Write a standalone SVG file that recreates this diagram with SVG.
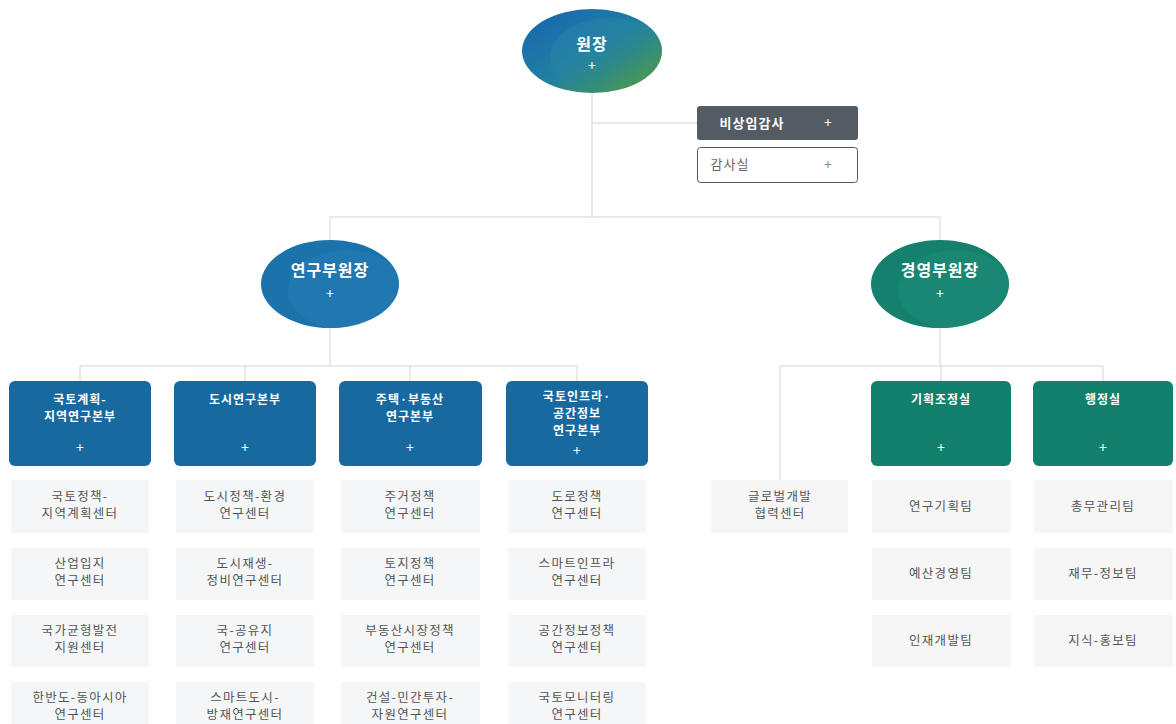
<svg xmlns="http://www.w3.org/2000/svg" width="1176" height="724" viewBox="0 0 1176 724">
<defs>
<linearGradient id="gTop" x1="0.15" y1="0.15" x2="0.9" y2="0.9">
<stop offset="0" stop-color="#1a6cae"/>
<stop offset="0.5" stop-color="#2080a0"/>
<stop offset="1" stop-color="#4f9a3c"/>
</linearGradient>
<linearGradient id="gTopIn" x1="0" y1="0" x2="1" y2="1">
<stop offset="0" stop-color="#2a86b8"/>
<stop offset="0.55" stop-color="#2a8a96"/>
<stop offset="1" stop-color="#55a040"/>
</linearGradient>
<clipPath id="cTop"><ellipse cx="592" cy="51" rx="70" ry="42"/></clipPath>
<clipPath id="cL"><ellipse cx="330" cy="284" rx="69" ry="44"/></clipPath>
<clipPath id="cR"><ellipse cx="940" cy="284" rx="69" ry="44"/></clipPath>
<style>
text{font-family:"Noto Sans CJK KR","Noto Sans",sans-serif;text-anchor:middle;}
.conn{stroke:#d4d4d4;stroke-width:1;fill:none;}
.hd{fill:#fff;font-size:12px;font-weight:bold;letter-spacing:1px;}
.pl{fill:#fff;font-size:14px;}
.sub{fill:#f4f6f8;}
.st{fill:#555;font-size:12.5px;letter-spacing:1.3px;}
.blue{fill:#17699f;}
.green{fill:#13806e;}
.ct{fill:#fff;font-size:16px;font-weight:bold;letter-spacing:1px;}
</style>
</defs>
<rect width="1176" height="724" fill="#fff"/>

<g id="connectors">
<path class="conn" d="M592 92V217M592 123H697M330 217H940V240M330 217V240"/>
<path class="conn" d="M330 328V366M80 366H577M80 366V381M245 366V381M410 366V381M577 366V381"/>
<path class="conn" d="M940 328V366M780 366H1103M780 366V480M941 366V381M1103 366V381"/>
</g>

<g id="n-wonjang">
<ellipse cx="592" cy="51" rx="70" ry="42" fill="url(#gTop)"/>
<ellipse cx="610" cy="58" rx="60" ry="40" fill="url(#gTopIn)" opacity="0.4" clip-path="url(#cTop)"/>
<text x="592" y="50" class="ct" font-size="18">원장</text>
<text x="592" y="71" class="pl">+</text>
</g>

<g id="n-audit1">
<rect x="697" y="106" width="161" height="34" rx="3" fill="#545b62"/>
<text x="752" y="128" class="hd" style="font-size:13px">비상임감사</text>
<text x="828" y="128" class="pl">+</text>
</g>
<g id="n-audit2">
<rect x="697.5" y="147.5" width="160" height="35" rx="3" fill="#fff" stroke="#555" stroke-width="1"/>
<text x="730" y="169" fill="#666" style="font-size:13px;letter-spacing:1px">감사실</text>
<text x="828" y="170" fill="#888" style="font-size:14px">+</text>
</g>

<g id="n-vp-research">
<ellipse cx="330" cy="284" rx="69" ry="44" fill="#1c72ab"/>
<ellipse cx="346" cy="290" rx="58" ry="40" fill="#2a84ba" opacity="0.35" clip-path="url(#cL)"/>
<text x="330" y="276" class="ct">연구부원장</text>
<text x="330" y="299" class="pl">+</text>
</g>
<g id="n-vp-mgmt">
<ellipse cx="940" cy="284" rx="69" ry="44" fill="#14806d"/>
<ellipse cx="956" cy="290" rx="58" ry="40" fill="#249282" opacity="0.35" clip-path="url(#cR)"/>
<text x="940" y="276" class="ct">경영부원장</text>
<text x="940" y="299" class="pl">+</text>
</g>

<g id="d1"><rect x="9" y="381" width="142" height="85" rx="6" class="blue"/>
<text x="80" y="404" class="hd">국토계획-</text><text x="80" y="421" class="hd">지역연구본부</text><text x="80" y="453" class="pl">+</text></g>
<g id="d2"><rect x="174" y="381" width="142" height="85" rx="6" class="blue"/>
<text x="245" y="404" class="hd">도시연구본부</text><text x="245" y="453" class="pl">+</text></g>
<g id="d3"><rect x="339" y="381" width="143" height="85" rx="6" class="blue"/>
<text x="410" y="404" class="hd">주택·부동산</text><text x="410" y="421" class="hd">연구본부</text><text x="410" y="453" class="pl">+</text></g>
<g id="d4"><rect x="506" y="381" width="142" height="85" rx="6" class="blue"/>
<text x="577" y="401" class="hd">국토인프라·</text><text x="577" y="418" class="hd">공간정보</text><text x="577" y="435" class="hd">연구본부</text><text x="577" y="456" class="pl">+</text></g>
<g id="d5"><rect x="871" y="381" width="140" height="85" rx="6" class="green"/>
<text x="941" y="404" class="hd">기획조정실</text><text x="941" y="453" class="pl">+</text></g>
<g id="d6"><rect x="1033" y="381" width="140" height="85" rx="6" class="green"/>
<text x="1103" y="404" class="hd">행정실</text><text x="1103" y="453" class="pl">+</text></g>

<g id="s1-1"><rect x="11" y="480" width="138" height="53" class="sub"/><text x="80" y="501" class="st">국토정책-</text><text x="80" y="518" class="st">지역계획센터</text></g>
<g id="s1-2"><rect x="11" y="548" width="138" height="52" class="sub"/><text x="80" y="568" class="st">산업입지</text><text x="80" y="585" class="st">연구센터</text></g>
<g id="s1-3"><rect x="11" y="615" width="138" height="52" class="sub"/><text x="80" y="635" class="st">국가균형발전</text><text x="80" y="652" class="st">지원센터</text></g>
<g id="s1-4"><rect x="11" y="682" width="138" height="52" class="sub"/><text x="80" y="702" class="st">한반도-동아시아</text><text x="80" y="719" class="st">연구센터</text></g>

<g id="s2-1"><rect x="176" y="480" width="138" height="53" class="sub"/><text x="245" y="501" class="st">도시정책-환경</text><text x="245" y="518" class="st">연구센터</text></g>
<g id="s2-2"><rect x="176" y="548" width="138" height="52" class="sub"/><text x="245" y="568" class="st">도시재생-</text><text x="245" y="585" class="st">정비연구센터</text></g>
<g id="s2-3"><rect x="176" y="615" width="138" height="52" class="sub"/><text x="245" y="635" class="st">국-공유지</text><text x="245" y="652" class="st">연구센터</text></g>
<g id="s2-4"><rect x="176" y="682" width="138" height="52" class="sub"/><text x="245" y="702" class="st">스마트도시-</text><text x="245" y="719" class="st">방재연구센터</text></g>

<g id="s3-1"><rect x="341" y="480" width="139" height="53" class="sub"/><text x="410" y="501" class="st">주거정책</text><text x="410" y="518" class="st">연구센터</text></g>
<g id="s3-2"><rect x="341" y="548" width="139" height="52" class="sub"/><text x="410" y="568" class="st">토지정책</text><text x="410" y="585" class="st">연구센터</text></g>
<g id="s3-3"><rect x="341" y="615" width="139" height="52" class="sub"/><text x="410" y="635" class="st">부동산시장정책</text><text x="410" y="652" class="st">연구센터</text></g>
<g id="s3-4"><rect x="341" y="682" width="139" height="52" class="sub"/><text x="410" y="702" class="st">건설-민간투자-</text><text x="410" y="719" class="st">자원연구센터</text></g>

<g id="s4-1"><rect x="508" y="480" width="138" height="53" class="sub"/><text x="577" y="501" class="st">도로정책</text><text x="577" y="518" class="st">연구센터</text></g>
<g id="s4-2"><rect x="508" y="548" width="138" height="52" class="sub"/><text x="577" y="568" class="st">스마트인프라</text><text x="577" y="585" class="st">연구센터</text></g>
<g id="s4-3"><rect x="508" y="615" width="138" height="52" class="sub"/><text x="577" y="635" class="st">공간정보정책</text><text x="577" y="652" class="st">연구센터</text></g>
<g id="s4-4"><rect x="508" y="682" width="138" height="52" class="sub"/><text x="577" y="702" class="st">국토모니터링</text><text x="577" y="719" class="st">연구센터</text></g>

<g id="s-global"><rect x="711" y="480" width="137" height="53" fill="#f6f6f6"/><text x="780" y="501" class="st">글로벌개발</text><text x="780" y="518" class="st">협력센터</text></g>

<g id="s5-1"><rect x="872" y="480" width="139" height="53" fill="#f6f6f6"/><text x="941" y="511" class="st">연구기획팀</text></g>
<g id="s5-2"><rect x="872" y="548" width="139" height="52" fill="#f6f6f6"/><text x="941" y="578" class="st">예산경영팀</text></g>
<g id="s5-3"><rect x="872" y="615" width="139" height="52" fill="#f6f6f6"/><text x="941" y="645" class="st">인재개발팀</text></g>

<g id="s6-1"><rect x="1034" y="480" width="139" height="53" fill="#f6f6f6"/><text x="1103" y="511" class="st">총무관리팀</text></g>
<g id="s6-2"><rect x="1034" y="548" width="139" height="52" fill="#f6f6f6"/><text x="1103" y="578" class="st">재무-정보팀</text></g>
<g id="s6-3"><rect x="1034" y="615" width="139" height="52" fill="#f6f6f6"/><text x="1103" y="645" class="st">지식-홍보팀</text></g>
</svg>
